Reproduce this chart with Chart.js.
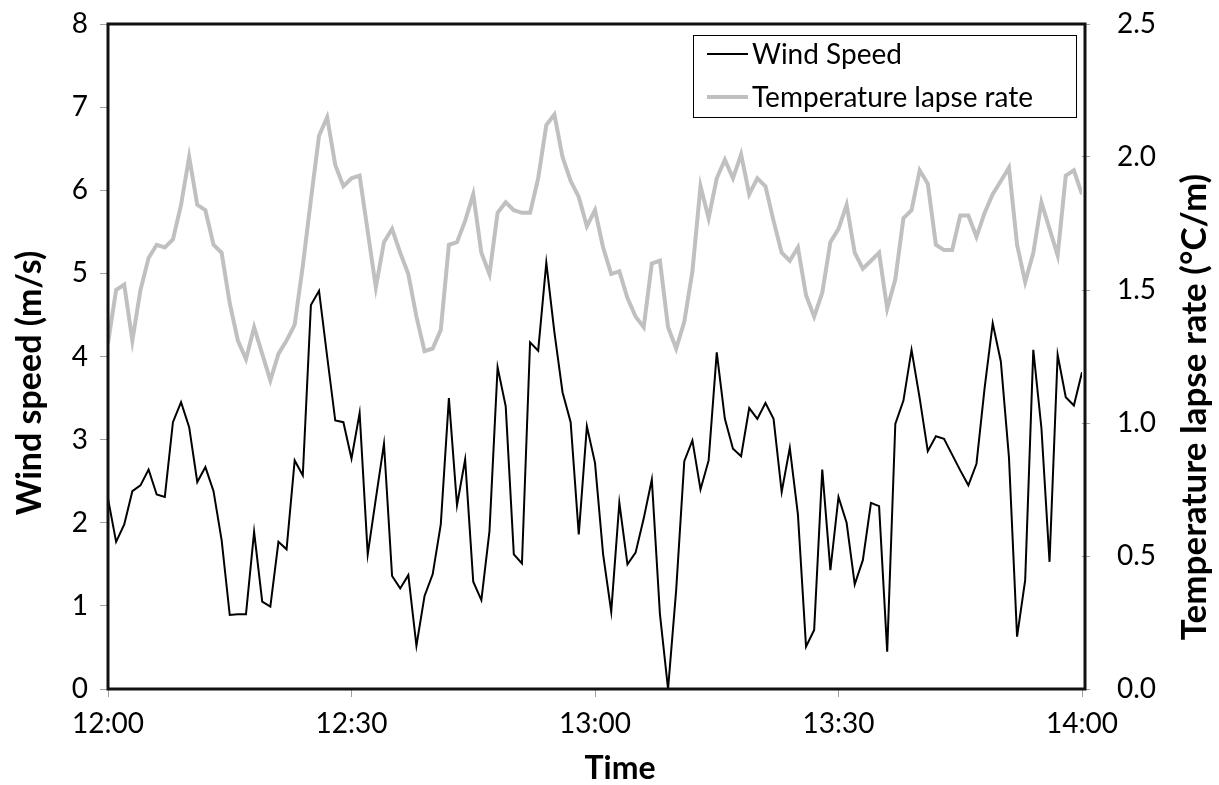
<!DOCTYPE html>
<html>
<head>
<meta charset="utf-8">
<script src="https://cdn.jsdelivr.net/npm/chart.js@4.4.1/dist/chart.umd.min.js"></script>
<style>
  html, body { margin: 0; padding: 0; background: #fff; }
  #wrap { width: 1219px; height: 785px; position: relative; }
</style>
</head>
<body>
<div id="wrap"><canvas id="lapseChart"></canvas></div>
<script>
// Readings, one per minute from 12:00 to 14:00
const tickLabels = ['12:00', '12:30', '13:00', '13:30', '14:00'];
const tickMinutes = [0, 30, 60, 90, 120];

const windSpeed = [
    2.29, 1.77, 1.98, 2.38, 2.45, 2.64, 2.34, 2.31, 3.21, 3.45,
    3.15, 2.49, 2.67, 2.38, 1.79, 0.89, 0.90, 0.90, 1.89, 1.05,
    0.99, 1.77, 1.68, 2.75, 2.57, 4.62, 4.79, 4.00, 3.23, 3.21,
    2.77, 3.32, 1.62, 2.29, 2.95, 1.36, 1.21, 1.37, 0.52, 1.12,
    1.38, 1.98, 3.50, 2.21, 2.76, 1.29, 1.07, 1.90, 3.87, 3.40,
    1.62, 1.51, 4.17, 4.07, 5.13, 4.29, 3.57, 3.21, 1.86, 3.16,
    2.72, 1.62, 0.93, 2.24, 1.50, 1.64, 2.05, 2.52, 0.90, 0.00,
    1.19, 2.74, 2.99, 2.40, 2.75, 4.05, 3.25, 2.89, 2.80, 3.38,
    3.25, 3.44, 3.25, 2.37, 2.90, 2.10, 0.51, 0.71, 2.64, 1.43,
    2.31, 2.00, 1.26, 1.55, 2.24, 2.20, 0.45, 3.19, 3.47, 4.08,
    3.50, 2.86, 3.04, 3.01, 2.82, 2.63, 2.45, 2.71, 3.62, 4.40,
    3.94, 2.79, 0.63, 1.31, 4.08, 3.14, 1.53, 4.02, 3.51, 3.41,
    3.81
];

const lapseRate = [
    1.30, 1.50, 1.52, 1.31, 1.50, 1.62, 1.67, 1.66, 1.69, 1.82,
    2.00, 1.82, 1.80, 1.67, 1.64, 1.45, 1.31, 1.24, 1.36, 1.26,
    1.16, 1.26, 1.31, 1.37, 1.59, 1.84, 2.08, 2.15, 1.97, 1.89,
    1.92, 1.93, 1.72, 1.51, 1.68, 1.73, 1.64, 1.56, 1.40, 1.27,
    1.28, 1.35, 1.67, 1.68, 1.76, 1.86, 1.64, 1.56, 1.79, 1.83,
    1.80, 1.79, 1.79, 1.92, 2.12, 2.16, 2.00, 1.91, 1.85, 1.74,
    1.80, 1.66, 1.56, 1.57, 1.47, 1.40, 1.36, 1.60, 1.61, 1.36,
    1.28, 1.38, 1.57, 1.89, 1.77, 1.92, 1.99, 1.92, 2.01, 1.86,
    1.92, 1.89, 1.76, 1.64, 1.61, 1.66, 1.48, 1.40, 1.49, 1.68,
    1.73, 1.82, 1.64, 1.58, 1.61, 1.64, 1.43, 1.54, 1.77, 1.80,
    1.95, 1.90, 1.67, 1.65, 1.65, 1.78, 1.78, 1.70, 1.79, 1.86,
    1.91, 1.96, 1.67, 1.53, 1.64, 1.83, 1.73, 1.63, 1.93, 1.95,
    1.86
];

const FONT = 'Lato, "Open Sans", sans-serif';

// frame, axis titles and the boxed legend
const decorPlugin = {
    id: 'decor',
    afterDraw(chart) {
        const ctx = chart.ctx;
        const a = chart.chartArea;
        ctx.save();

        ctx.strokeStyle = '#111';
        ctx.lineWidth = 3;
        ctx.strokeRect(a.left, a.top, a.right - a.left + 3, a.bottom - a.top);

        ctx.fillStyle = '#000';
        ctx.textAlign = 'center';
        ctx.textBaseline = 'middle';
        ctx.font = 'bold 32px ' + FONT;
        ctx.fillText('Time', 620, 769);

        ctx.save();
        ctx.translate(30, 383);
        ctx.rotate(-Math.PI / 2);
        ctx.font = 'bold 34px ' + FONT;
        ctx.fillText('Wind speed (m/s)', 0, 0);
        ctx.restore();

        ctx.save();
        ctx.translate(1195, 407);
        ctx.rotate(-Math.PI / 2);
        ctx.font = 'bold 35px ' + FONT;
        ctx.fillText('Temperature lapse rate (\u00B0C/m)', 0, 0);
        ctx.restore();

        // legend
        ctx.strokeStyle = '#000';
        ctx.lineWidth = 1;
        ctx.strokeRect(693.5, 35.5, 383, 82);
        ctx.font = '28px ' + FONT;
        ctx.textAlign = 'left';
        const rows = [55, 98];
        chart.data.datasets.forEach((ds, i) => {
            ctx.strokeStyle = ds.borderColor;
            ctx.lineWidth = ds.borderWidth;
            ctx.beginPath();
            ctx.moveTo(707, rows[i] - 1);
            ctx.lineTo(748, rows[i] - 1);
            ctx.stroke();
            ctx.fillStyle = '#000';
            ctx.fillText(ds.label, 752, rows[i]);
        });
        ctx.restore();
    }
};

// fixed axis sizes so the plot box lands where it is in the original
function fixSide(width) {
    return (scale) => {
        scale.width = width;
        scale.paddingTop = 10;
        scale.paddingBottom = 10;
    };
}

const ctx = document.getElementById('lapseChart').getContext('2d');

new Chart(ctx, {
    type: 'line',
    data: {
        datasets: [{
            label: 'Wind Speed',
            data: windSpeed.map((v, i) => ({ x: i, y: v })),
            borderColor: '#000000',
            borderWidth: 2,
            pointRadius: 0,
            tension: 0,
            yAxisID: 'y'
        }, {
            label: 'Temperature lapse rate',
            data: lapseRate.map((v, i) => ({ x: i, y: v })),
            borderColor: '#c0c0c0',
            borderWidth: 4,
            pointRadius: 0,
            tension: 0,
            yAxisID: 'y1'
        }]
    },
    options: {
        responsive: true,
        maintainAspectRatio: false,
        animation: false,
        layout: {
            padding: { top: 24, left: 0, right: 0, bottom: 0 }
        },
        plugins: {
            legend: { display: false },
            tooltip: { enabled: false }
        },
        scales: {
            x: {
                type: 'linear',
                min: 0,
                max: 120,
                afterFit: (scale) => { scale.height = 96; },
                afterBuildTicks: (scale) => {
                    scale.ticks = tickMinutes.map(v => ({ value: v }));
                },
                ticks: {
                    autoSkip: false,
                    maxRotation: 0,
                    padding: 10,
                    color: '#000',
                    font: { family: FONT, size: 28 },
                    callback: (v) => tickLabels[tickMinutes.indexOf(v)]
                },
                grid: {
                    drawOnChartArea: false,
                    tickLength: 8,
                    tickColor: '#a0a0a0'
                },
                border: { display: false }
            },
            y: {
                position: 'left',
                min: 0,
                max: 8,
                afterFit: fixSide(108),
                ticks: {
                    stepSize: 1,
                    padding: 12,
                    color: '#000',
                    font: { family: FONT, size: 28 }
                },
                grid: {
                    drawOnChartArea: false,
                    tickLength: 8,
                    tickColor: '#a0a0a0'
                },
                border: { display: false }
            },
            y1: {
                position: 'right',
                min: 0,
                max: 2.5,
                afterFit: fixSide(137),
                ticks: {
                    stepSize: 0.5,
                    padding: 27,
                    color: '#000',
                    font: { family: FONT, size: 28 },
                    callback: (v) => v.toFixed(1)
                },
                grid: {
                    drawOnChartArea: false,
                    tickLength: 8,
                    tickColor: '#a0a0a0'
                },
                border: { display: false }
            }
        }
    },
    plugins: [decorPlugin]
});
</script>
</body>
</html>
